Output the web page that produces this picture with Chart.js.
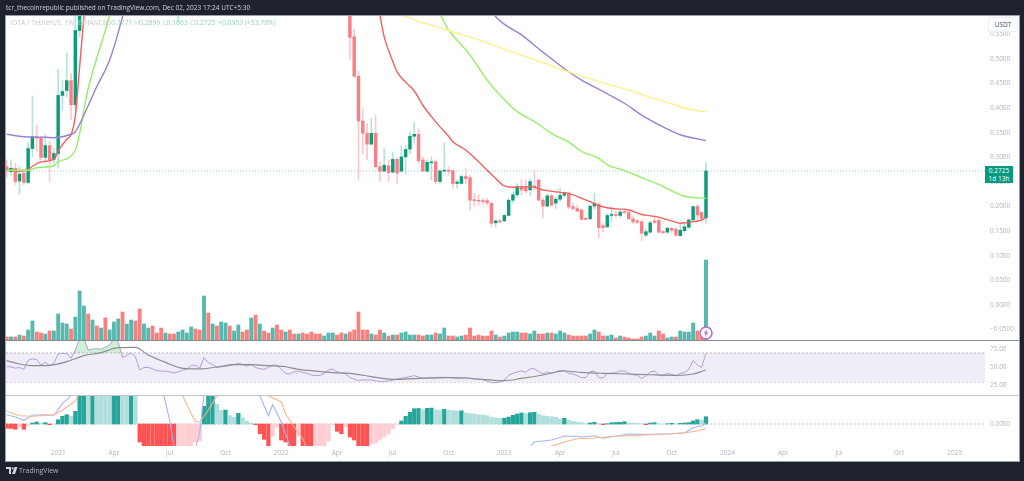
<!DOCTYPE html>
<html lang="en">

<head>
    <meta charset="UTF-8">
    <title>IOTA / TetherUS, 1W, BINANCE</title>
    <script src="https://cdn.jsdelivr.net/npm/chart.js"></script>
    <style>
        html, body {
            margin: 0;
            padding: 0;
            width: 1024px;
            height: 481px;
            overflow: hidden;
            background: #1e222d;
            font-family: "Open Sans", Arial, sans-serif;
        }

        #page {
            position: absolute;
            left: 0;
            top: 0;
            width: 1024px;
            height: 481px;
            filter: blur(0.55px);
        }

        #frame {
            position: absolute;
            left: 5px;
            top: 15px;
            width: 1013px;
            height: 445px;
            background: #fff;
            border: 1px solid #9a9ea8;
        }

        canvas {
            position: absolute;
            left: 6px;
        }

        .sep {
            position: absolute;
            left: 6px;
            width: 1013px;
            height: 1px;
        }

        #header {
            position: absolute;
            left: 6px;
            top: 2px;
            font-size: 6.5px;
            line-height: 12px;
            color: #d1d4dc;
            white-space: nowrap;
        }

        #legend {
            position: absolute;
            left: 10px;
            top: 18px;
            font-size: 6.8px;
            line-height: 10px;
            color: #c6c8cf;
            white-space: nowrap;
        }

        #legend b {
            font-weight: normal;
            color: #8fd3bf;
        }

        #legend span {
            position: absolute;
            top: 0;
        }

        #unit {
            position: absolute;
            left: 988px;
            top: 17px;
            width: 28px;
            height: 13px;
            background: #fff;
            border: 1px solid #eceef2;
            border-radius: 2px;
            font-size: 6.5px;
            line-height: 14px;
            text-align: center;
            color: #4a4e59;
        }

        #lastPrice {
            position: absolute;
            left: 985px;
            top: 166px;
            width: 28px;
            height: 17px;
            background: #089981;
            color: #fff;
            font-size: 6.5px;
            line-height: 8px;
            text-align: center;
            padding-top: 1px;
            box-sizing: border-box;
        }

        #bolt {
            position: absolute;
            left: 698px;
            top: 325px;
        }

        #footer {
            position: absolute;
            left: 19px;
            top: 465px;
            font-size: 6.9px;
            line-height: 12px;
            color: #b2b5be;
        }

        #logo {
            position: absolute;
            left: 6px;
            top: 467px;
        }
    </style>
</head>

<body>
    <div id="page">
        <div id="frame"></div>
        <canvas id="pricePane" width="1013" height="325" style="top:16px"></canvas>
        <canvas id="rsiPane" width="1013" height="54" style="top:341px"></canvas>
        <canvas id="macdPane" width="1013" height="65" style="top:396px"></canvas>
        <div class="sep" style="top:340px;background:#85888f"></div>
        <div class="sep" style="top:395px;background:#c4c6cb"></div>

        <div id="header">tcr_thecoinrepublic published on TradingView.com, Dec 02, 2023 17:24 UTC+5:30</div>
        <div id="legend">IOTA / TetherUS, 1W, BINANCE
            <span style="left:96px">O<b>0.1771</b></span>
            <span style="left:124px">H<b>0.2899</b></span>
            <span style="left:153px">L<b>0.1663</b></span>
            <span style="left:180px">C<b>0.2725</b></span>
            <span style="left:208px"><b>+0.0953 (+53.78%)</b></span>
        </div>
        <div id="unit">USDT</div>
        <div id="lastPrice">0.2725<br>1d 13h</div>
        <svg id="bolt" width="16" height="16" viewBox="0 0 16 16">
            <circle cx="8" cy="8" r="6" fill="#fff" stroke="#ba68c8" stroke-width="1.5" />
            <path d="M9.2 4 L5.6 8.6 H7.6 L6.8 12 L10.4 7.4 H8.4 Z" fill="#ba68c8" />
        </svg>
        <svg id="logo" width="12" height="8" viewBox="0 0 12 8">
            <path d="M0 0 H5 V7 H3 V2 H0 Z M6 7 L8.6 0 H11.5 L9 7 Z" fill="#d1d4dc" />
            <circle cx="6.6" cy="1.3" r="1.1" fill="#d1d4dc" />
        </svg>
        <div id="footer">TradingView</div>
    </div>

    <script>
        // weekly candles, week 0 is the leftmost bar, week 163 the last one.
        // weeks 18-79 trade above the top of the price axis so they are left out
        const openEarly = [.281, .271, .278, .252, .268, .249, .318, .342, .339, .300,
            .324, .296, .308, .426, .436, .456, .407, .558];
        const closeEarly = [.273, .278, .251, .266, .249, .318, .342, .339, .300, .324,
            .295, .308, .426, .434, .456, .407, .558, .70];
        const highEarly = [.295, .295, .288, .281, .274, .329, .425, .366, .343, .346,
            .332, .318, .479, .457, .512, .471, .60, .72];
        const lowEarly = [.261, .264, .244, .226, .244, .247, .301, .312, .295, .288,
            .251, .288, .278, .396, .423, .377, .390, .545];

        const openLate = [.62, .545, .465, .374, .349, .327, .349, .281, .272, .283,
            .270, .296, .272, .301, .317, .343, .347, .295, .272, .289,
            .291, .251, .272, .274, .273, .247, .247, .261, .259, .213,
            .213, .212, .212, .207, .167, .171, .171, .182, .213, .224,
            .241, .239, .234, .242, .254, .213, .201, .222, .207, .215,
            .223, .227, .200, .196, .193, .176, .175, .201, .205, .161,
            .159, .182, .184, .182, .189, .188, .175, .171, .169, .142,
            .148, .171, .172, .149, .148, .156, .154, .141, .151, .158,
            .173, .200, .188, .1771];
        const closeLate = [.544, .465, .374, .349, .327, .349, .281, .272, .284, .269,
            .296, .268, .301, .316, .343, .347, .293, .272, .290, .291,
            .251, .272, .274, .272, .247, .250, .261, .257, .213, .212,
            .211, .210, .208, .166, .171, .169, .182, .213, .224, .241,
            .234, .232, .251, .239, .213, .201, .222, .203, .215, .223,
            .227, .199, .196, .191, .174, .174, .201, .207, .157, .157,
            .182, .184, .182, .189, .188, .175, .169, .168, .146, .149,
            .167, .168, .148, .147, .156, .152, .142, .152, .159, .173,
            .200, .183, .176, .2725];
        const highLate = [.64, .560, .476, .398, .369, .379, .386, .291, .318, .295,
            .310, .298, .323, .325, .352, .371, .358, .301, .295, .301,
            .295, .276, .329, .281, .274, .254, .264, .278, .264, .227,
            .224, .217, .217, .208, .173, .174, .184, .217, .230, .247,
            .255, .255, .257, .274, .255, .217, .226, .226, .219, .237,
            .230, .230, .207, .203, .196, .178, .203, .227, .208, .166,
            .186, .200, .190, .192, .196, .192, .180, .174, .173, .154,
            .171, .183, .175, .152, .158, .158, .159, .166, .164, .174,
            .201, .205, .190, .2899];
        const lowLate = [.499, .461, .255, .308, .295, .325, .280, .251, .271, .251,
            .268, .247, .270, .266, .308, .329, .289, .271, .270, .254,
            .246, .247, .271, .264, .237, .237, .246, .247, .194, .201,
            .203, .205, .203, .159, .158, .166, .169, .181, .207, .220,
            .224, .227, .222, .234, .212, .178, .200, .200, .196, .210,
            .220, .196, .192, .190, .173, .173, .174, .194, .136, .149,
            .157, .169, .178, .178, .186, .174, .166, .166, .131, .139,
            .146, .165, .146, .146, .146, .148, .139, .139, .148, .156,
            .169, .174, .169, .1663];
        const lateStart = 80;
        // the one wick of the hidden stretch that reaches into view
        const spikeWeek = 40, spikeLow = .575, spikeHigh = .62;
        const lastClose = .2725;

        // volume in px-ish units, the axis is hidden anyway
        const volumes = [4, 4, 4, 6, 5, 11, 20, 9, 8, 7,
            10, 10, 27, 18, 17, 12, 24, 50, 35, 27,
            21, 15, 13, 23, 11, 19, 22, 29, 17, 21,
            20, 32, 17, 13, 15, 8, 13, 8, 7, 7,
            9, 11, 8, 14, 12, 11, 45, 28, 17, 15,
            19, 18, 15, 10, 16, 9, 11, 23, 26, 17,
            10, 8, 13, 16, 11, 9, 11, 7, 7, 8,
            7, 9, 7, 7, 5, 8, 8, 6, 8, 7,
            9, 11, 29, 11, 11, 7, 6, 11, 8, 5,
            6, 6, 8, 9, 6, 6, 6, 5, 6, 6,
            8, 7, 13, 5, 5, 4, 5, 6, 13, 5,
            6, 5, 5, 10, 6, 4, 5, 8, 9, 9,
            8, 8, 7, 10, 7, 7, 8, 8, 7, 10,
            8, 6, 5, 5, 5, 5, 7, 11, 9, 5,
            5, 6, 3, 5, 4, 3, 2, 2, 4, 5,
            8, 5, 10, 7, 3, 4, 4, 10, 9, 9,
            18, 10, 6, 81];
        const volumeUp = [0, 1, 0, 1, 0, 1, 1, 0, 0, 1,
            0, 1, 1, 1, 1, 0, 1, 1, 1, 0,
            1, 0, 1, 0, 1, 1, 1, 0, 1, 1,
            0, 0, 1, 1, 0, 0, 0, 1, 0, 0,
            1, 1, 1, 1, 0, 0, 1, 0, 1, 0,
            1, 1, 0, 1, 1, 0, 0, 1, 0, 1,
            0, 0, 1, 0, 0, 1, 0, 0, 1, 0,
            0, 0, 0, 0, 1, 1, 1, 0, 0, 1,
            0, 0, 0, 0, 0, 1, 0, 0, 1, 0,
            1, 0, 1, 1, 1, 1, 0, 0, 1, 1,
            0, 1, 1, 0, 0, 1, 1, 0, 0, 0,
            0, 0, 0, 0, 1, 0, 1, 1, 1, 1,
            0, 0, 1, 1, 0, 0, 1, 0, 1, 1,
            1, 0, 0, 0, 0, 0, 1, 1, 0, 0,
            1, 1, 0, 1, 0, 0, 0, 0, 0, 1,
            1, 1, 0, 0, 1, 1, 0, 1, 1, 1,
            1, 0, 0, 1];

        // moving averages on the price pane, read where each one is visible
        const ema20Weeks = [0, 3, 5, 6, 8, 11, 12, 14, 15, 16, 17, 18, 19, 86, 87, 88, 90, 91, 93, 95, 97, 99, 101, 103, 104, 107, 110, 112, 114, 116, 119, 122, 125, 129, 131, 134, 136, 138, 141, 145, 148, 151, 155, 157, 159, 162, 163];
        const ema20Values = [.274, .272, .275, .282, .291, .296, .313, .337, .346, .384, .484, .586, .69, .65, .59, .545, .495, .474, .453, .435, .406, .383, .362, .343, .332, .315, .291, .274, .257, .242, .239, .241, .234, .229, .227, .217, .210, .202, .196, .193, .184, .180, .171, .166, .168, .173, .178];
        const ema50Weeks = [0, 5, 7, 11, 12, 16, 19, 24, 26, 100, 103, 108, 112, 116, 119, 123, 127, 131, 134, 138, 140, 144, 148, 152, 155, 158, 163];
        const ema50Values = [.274, .274, .279, .283, .291, .315, .440, .589, .66, .60, .559, .508, .457, .417, .393, .373, .349, .331, .312, .298, .285, .273, .259, .245, .232, .221, .217];
        const ema100Weeks = [0, 4, 9, 11, 15, 16, 18, 21, 24, 27, 29, 113, 114, 120, 125, 131, 134, 139, 144, 148, 153, 157, 163];
        const ema100Values = [.347, .342, .341, .340, .347, .352, .386, .444, .498, .586, .66, .60, .586, .549, .514, .474, .457, .434, .410, .386, .362, .346, .334];
        const ema200Weeks = [90, 92, 103, 110, 120, 131, 137, 140, 145, 149, 155, 159, 163];
        const ema200Values = [.60, .590, .558, .539, .508, .474, .457, .449, .437, .425, .409, .398, .393];

        // RSI, every week up to 82, then the points that could be told apart
        const rsiWeeks = [0, 1, 2, 3, 4, 5, 6, 7, 8, 9, 10, 11, 12, 13, 14, 15, 16, 17, 18, 19,
            20, 21, 22, 23, 24, 25, 26, 27, 28, 29, 30, 31, 32, 33, 34, 35, 36, 37, 38, 39,
            40, 41, 42, 43, 44, 45, 46, 47, 48, 49, 50, 51, 52, 53, 54, 55, 56, 57, 58, 59,
            60, 61, 62, 63, 64, 65, 66, 67, 68, 69, 70, 71, 72, 73, 74, 75, 76, 77, 78, 79,
            80, 81, 82, 83, 85, 87, 89, 91, 93, 95, 97, 99, 101, 103, 105, 107, 109, 111, 113, 115,
            116, 117, 118, 119, 120, 121, 122, 123, 124, 125, 126, 127, 128, 129, 130, 131, 132, 133, 134, 135,
            136, 137, 138, 139, 140, 141, 142, 143, 144, 145, 146, 147, 148, 149, 150, 151, 152, 153, 154, 155,
            156, 157, 158, 159, 160, 161, 162, 163];
        const rsiValues = [51, 51, 49, 50, 47.5, 60, 62, 61, 53, 57, 52.5, 56, 68.6, 69.5, 69.5, 62.6, 74, 90, 90, 74,
            75.5, 76, 75, 78, 81, 90, 84.7, 63.6, 67, 70, 65, 46.6, 50, 50, 48.4, 45.6, 45, 45, 44, 42.4,
            44, 46.5, 47.5, 53, 53, 49, 63.6, 56.7, 54.4, 50, 51, 51.6, 52.5, 54, 55.7, 54, 52, 54, 50, 48.4,
            47.5, 50, 53.4, 53.4, 48, 42, 41, 44, 45, 43, 42, 39.6, 39, 39, 42, 46.5, 48, 44, 42.4, 41,
            36.4, 33.7, 32, 32.8, 32.8, 30.5, 31.4, 34.1, 36, 38.7, 35, 36, 36.4, 36.4, 35, 36, 33.7, 33.2, 29, 29.5,
            32.8, 39.2, 42, 43.8, 45.2, 43.3, 48, 48.4, 44.3, 41, 43.8, 42, 43.8, 46, 46, 42, 41, 38.7, 36, 36,
            44.3, 44.7, 36, 35.5, 42, 42.4, 42.9, 45.2, 45.2, 42, 40, 39.2, 34.6, 38.7, 43.8, 45.2, 39.2, 38.7, 42, 40.6,
            38.3, 42, 42.9, 47.5, 59.4, 53.4, 50.2, 69.5];
        const rsiMaWeeks = [0, 3, 6, 10, 14, 18, 22, 26, 30, 33, 37, 41, 45, 49, 53, 57, 61, 65, 68, 72, 76, 80, 85, 90, 96, 103, 107, 111, 116, 120, 125, 130, 134, 139, 145, 150, 156, 160, 163];
        const rsiMaValues = [59.4, 54.8, 52.5, 53, 58, 66.3, 70.5, 77.4, 77.8, 67.2, 57, 48.9, 48, 50.7, 53.9, 53.9, 52.5, 51, 47.5, 45, 42.9, 42, 37.4, 33.7, 35, 36, 35.5, 33.7, 31.8, 35, 39.7, 45.2, 43.3, 42, 41, 40, 39.2, 41, 46.5];
        const rsiTicks = [25, 50, 75];
        const rsiUpper = 70, rsiMiddle = 50, rsiLower = 30;

        // MACD in thousandths of a dollar, bars that run off the pane are rough guesses
        const macdHist = [-4.3, -4.4, -5.3, -3, -5.3, -1.5, 1, 2, 1, 1.3,
            -.7, -.3, 4.3, 7.7, 9.3, 8, 12.7, 40, 46, 45,
            47, 44, 43, 42, 41, 42, 45, 43, 41, 42,
            30, -18, -24, -30, -33, -36, -39, -42, -45, -47,
            -44, -38, -32, -26, -18, -17, 17.7, 30, 32, 19.7,
            13.7, 14, 8.3, 6.7, 10.7, 6.3, 2.7, 1, -.7, -9.7,
            -15.3, -22, -12, -3, -16, -18, -25, -27, -12, -28,
            -29, -29.5, -25, -24, -22, -17, -.7, -7.3, -9.7, -3,
            -13, -16, -22, -24, -24.5, -20, -19, -16, -13, -10,
            -5, -.3, 3, 7.7, 11.7, 15.3, 15.5, 14.3, 15.7, 15.9,
            14, 13.9, 14.7, 14, 13.3, 13, 13.2, 11, 10.3, 10,
            9.3, 9, 8.3, 6.7, 6, 5.7, 5.8, 7, 8.7, 10,
            11, 10.3, 11.3, 11.7, 9.7, 8.3, 7.7, 7.3, 6.7, 5.2,
            5.7, 3.7, 2.7, 2, 1.3, .3, 1, 1.7, .3, -.7,
            .3, 1.3, 1.4, 1.7, 2.3, 1, .9, .7, .3, -.7,
            1, 1.3, .3, 0, .3, .7, .3, .7, 1, 1.3,
            3, 4.3, 3.7, 7.3];
        const macdWeeks = [0, 2, 4, 6, 8, 11, 13, 15, 18, 36, 38, 39, 40, 44, 45, 46, 58, 59, 61, 62, 64, 66, 67, 120, 122, 123, 127, 130, 133, 134, 137, 139, 142, 145, 148, 150, 155, 158, 160, 162, 163];
        const macdValues = [9.3, 7, 3.7, 8.7, 9.3, 8.7, 20.3, 28.3, 40, 40, 3.7, -22, -40, -25, -8, 30, 40, 28.3, 8.3, 19.3, 2, -22, -35, -30, -23, -18, -16, -12, -12.3, -13, -11.7, -14.3, -12, -10, -10.3, -10.3, -9.7, -9, -3.7, -1.7, 1];
        const signalWeeks = [0, 3, 6, 11, 13, 16, 18, 40, 41, 43, 44, 45, 47, 49, 50, 58, 61, 64, 65, 67, 69, 70, 126, 127, 130, 133, 137, 142, 148, 155, 158, 161, 163];
        const signalValues = [12.7, 8.3, 7.7, 9.3, 13.7, 23, 40, 40, 28.3, 10.3, 2.7, 2, 13.7, 28.3, 40, 40, 28.3, 22, 10.3, -3, -14.7, -25, -26, -22, -18, -14.7, -14, -12.3, -11.3, -9.7, -8.7, -7, -4.7];

        const priceTicks = [.55, .5, .45, .4, .35, .3, .25, .2, .15, .1, .05, 0, -.05];
        const macdTicks = [0];
        const timeTickWeeks = [12, 25, 38, 51, 64, 77, 90, 103, 116, 129, 142, 155, 168, 181, 194, 208, 221];
        const timeTickLabels = ['2021', 'Apr', 'Jul', 'Oct', '2022', 'Apr', 'Jul', 'Oct', '2023', 'Apr', 'Jul', 'Oct', '2024', 'Apr', 'Jul', 'Oct', '2025'];

        // visible window of the time axis, in weeks
        const weekMin = -0.16, weekMax = 228.04;

        Chart.defaults.font.family = '"Open Sans", Arial, sans-serif';
        Chart.defaults.font.size = 6.5;
        Chart.defaults.color = '#b2b5be';
        Chart.defaults.animation = false;

        const UP = '#0c9c78', DOWN = '#f77f85';
        const UP_WICK = '#b7e2d9', DOWN_WICK = '#fbc9cb';

        function pairs(weeks, values) {
            return weeks.map((w, i) => ({ x: w, y: values[i] }));
        }

        function line(label, weeks, values, color, width) {
            return {
                type: 'line', label, data: pairs(weeks, values), borderColor: color,
                borderWidth: width, pointRadius: 0, tension: 0, fill: false, order: 1
            };
        }

        // the moving averages are smooth in the original, so round their corners
        function smoothLine(label, weeks, values, color, width) {
            return Object.assign(line(label, weeks, values, color, width), { cubicInterpolationMode: 'monotone' });
        }

        function levelLine(label, y, color, dash) {
            return {
                type: 'line', label, data: [{ x: weekMin, y }, { x: weekMax, y }], borderColor: color,
                borderWidth: 1, borderDash: dash, pointRadius: 0, fill: false, order: 6
            };
        }

        function timeAxis(show) {
            const axis = {
                type: 'linear', min: weekMin, max: weekMax, offset: false, display: show,
                grid: { display: false, drawTicks: false }, border: { display: false },
                ticks: { display: show }
            };
            // the hidden panes must not lose height to an axis they do not draw
            if (show) {
                axis.afterBuildTicks = s => { s.ticks = timeTickWeeks.map(value => ({ value })); };
                axis.afterFit = s => { s.height = 15; s.paddingLeft = 0; s.paddingRight = 0; };
                axis.ticks = {
                    autoSkip: false, maxRotation: 0, padding: 3,
                    callback: (v, i) => timeTickLabels[i]
                };
            }
            return axis;
        }

        function valueAxis(min, max, tickList, format) {
            return {
                position: 'right', min, max,
                grid: { display: false, drawTicks: false }, border: { display: false },
                afterBuildTicks: s => { s.ticks = tickList.map(value => ({ value })); },
                afterFit: s => { s.width = 34; s.paddingTop = 0; s.paddingBottom = 0; },
                ticks: { autoSkip: false, padding: 5, callback: format }
            };
        }

        const chartOptions = (scales) => ({
            responsive: false,
            animation: false,
            layout: { padding: 0 },
            plugins: { legend: { display: false }, tooltip: { enabled: false } },
            scales
        });

        // build candle rows from the two stretches we can see
        const candles = [];
        openEarly.forEach((o, i) => candles.push({ x: i, o, c: closeEarly[i], h: highEarly[i], l: lowEarly[i] }));
        openLate.forEach((o, i) => candles.push({ x: lateStart + i, o, c: closeLate[i], h: highLate[i], l: lowLate[i] }));

        const wickData = candles.map(k => ({ x: k.x, y: [k.l, k.h] }));
        wickData.push({ x: spikeWeek, y: [spikeLow, spikeHigh] });
        const wickColors = candles.map(k => k.c >= k.o ? UP_WICK : DOWN_WICK);
        wickColors.push(UP_WICK);

        new Chart(document.getElementById('pricePane'), {
            type: 'bar',
            data: {
                datasets: [
                    {
                        label: 'Volume', yAxisID: 'vol', order: 5, grouped: false, barThickness: 3.2,
                        data: pairs(volumes.map((v, i) => i), volumes),
                        backgroundColor: volumeUp.map(u => u ? '#55b9ad' : '#f8807f')
                    },
                    {
                        label: 'Wick', order: 4, grouped: false, barThickness: 1,
                        data: wickData, backgroundColor: wickColors
                    },
                    {
                        label: 'Body', order: 3, grouped: false, barThickness: 2.8,
                        data: candles.map(k => ({ x: k.x, y: [k.o, k.c] })),
                        backgroundColor: candles.map(k => k.c >= k.o ? UP : DOWN),
                        minBarLength: 1
                    },
                    levelLine('Last price', lastClose, 'rgba(8,153,129,.45)', [1, 2]),
                    smoothLine('EMA 200', ema200Weeks, ema200Values, '#ffee8c', 1.4),
                    smoothLine('EMA 100', ema100Weeks, ema100Values, '#9b7fd4', 1.4),
                    smoothLine('EMA 50', ema50Weeks, ema50Values, '#96ee66', 1.4),
                    smoothLine('EMA 20', ema20Weeks, ema20Values, '#f45f5f', 1.4)
                ]
            },
            options: chartOptions({
                x: timeAxis(false),
                y: valueAxis(-.0732, .5874, priceTicks, v => v.toFixed(4).replace('-', '\u2212')),
                vol: { display: false, min: 0, max: 325 }
            })
        });

        new Chart(document.getElementById('rsiPane'), {
            type: 'line',
            data: {
                datasets: [
                    smoothLine('RSI MA', rsiMaWeeks, rsiMaValues, '#8d8d8d', 1.2),
                    Object.assign(line('RSI', rsiWeeks, rsiValues, '#b39ddb', 1), {
                        order: 2,
                        fill: { target: { value: rsiUpper }, above: 'rgba(76,200,110,.28)', below: 'rgba(0,0,0,0)' }
                    }),
                    Object.assign(levelLine('Upper', rsiUpper, '#b7b8bd', [2, 2]), {
                        fill: { target: { value: rsiLower } }, backgroundColor: '#f0edf9'
                    }),
                    levelLine('Middle', rsiMiddle, '#b7b8bd', [2, 2]),
                    levelLine('Lower', rsiLower, '#b7b8bd', [2, 2])
                ]
            },
            options: chartOptions({
                x: timeAxis(false),
                y: valueAxis(12.07, 86.55, rsiTicks, v => v.toFixed(2))
            })
        });

        // histogram colours follow the usual MACD rule, dark when moving away from zero
        const histColors = macdHist.map((v, i) => {
            const prev = i ? macdHist[i - 1] : 0;
            if (v >= 0) return v >= prev ? '#26a69a' : '#b2dfdb';
            return v <= prev ? '#ff5252' : '#ffcdd2';
        });

        new Chart(document.getElementById('macdPane'), {
            type: 'bar',
            data: {
                datasets: [
                    {
                        label: 'Histogram', order: 3, grouped: false, barThickness: 3.6,
                        data: pairs(macdHist.map((v, i) => i), macdHist),
                        backgroundColor: histColors
                    },
                    levelLine('Zero', 0, '#c8c9ce', [2, 2]),
                    line('Signal', signalWeeks, signalValues, '#f9b48c', 1.1),
                    line('MACD', macdWeeks, macdValues, '#a3b6f7', 1.1)
                ]
            },
            options: chartOptions({
                x: timeAxis(true),
                y: valueAxis(-22, 28, macdTicks, v => v.toFixed(4))
            })
        });
    </script>
</body>

</html>
